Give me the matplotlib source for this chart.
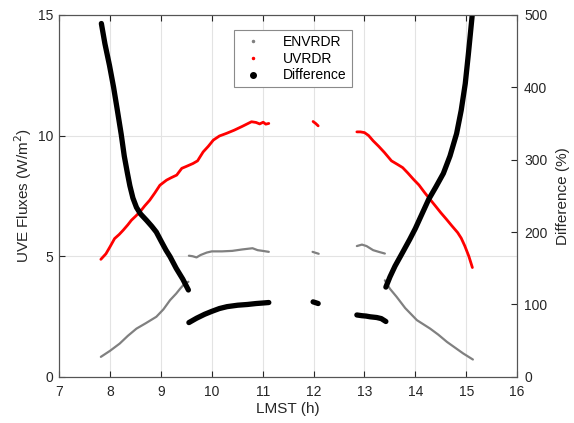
import matplotlib
matplotlib.use("Agg")
import matplotlib.pyplot as plt
from matplotlib.lines import Line2D

plt.rcParams['font.family'] = ['Liberation Sans', 'DejaVu Sans']

# ENVRDR (W/m2), pieces separated by gaps
env_t1 = [7.82, 8.0, 8.19, 8.35, 8.52, 8.7, 8.91, 9.05, 9.18, 9.3, 9.38, 9.46, 9.54]
env_v1 = [0.83, 1.08, 1.38, 1.7, 2.0, 2.22, 2.49, 2.8, 3.18, 3.45, 3.66, 3.85, 3.94]
env_t2 = [9.55, 9.62, 9.7, 9.78, 9.9, 10.0, 10.2, 10.4, 10.6, 10.8, 10.9, 11.0, 11.12]
env_v2 = [5.02, 5.0, 4.95, 5.05, 5.15, 5.2, 5.2, 5.22, 5.28, 5.33, 5.25, 5.22, 5.18]
env_t3 = [11.98, 12.1]
env_v3 = [5.18, 5.1]
env_t4 = [12.85, 12.95, 13.04, 13.17, 13.28, 13.4]
env_v4 = [5.42, 5.48, 5.42, 5.25, 5.18, 5.11]
env_t5 = [13.4, 13.5, 13.63, 13.8, 14.03, 14.29, 14.45, 14.62, 14.8, 14.94, 15.13]
env_v5 = [4.0, 3.65, 3.32, 2.85, 2.35, 2.0, 1.75, 1.45, 1.18, 0.97, 0.72]

# UVRDR (W/m2)
uv_t1 = [7.82, 7.92, 8.0, 8.09, 8.18, 8.26, 8.35, 8.42, 8.5, 8.59, 8.68, 8.78,
         8.88, 8.98, 9.11, 9.2, 9.31, 9.41, 9.5, 9.63, 9.72, 9.83, 9.93, 10.03,
         10.15, 10.29, 10.44, 10.6, 10.78, 10.87, 10.94, 11.01, 11.06, 11.12]
uv_v1 = [4.87, 5.1, 5.39, 5.73, 5.9, 6.08, 6.3, 6.49, 6.65, 6.84, 7.08, 7.32,
         7.62, 7.94, 8.15, 8.25, 8.36, 8.64, 8.72, 8.84, 8.95, 9.32, 9.55, 9.81,
         9.98, 10.09, 10.22, 10.38, 10.57, 10.54, 10.48, 10.55, 10.47, 10.5]
uv_t2 = [11.99, 12.04, 12.09]
uv_v2 = [10.58, 10.5, 10.4]
uv_t3 = [12.85, 12.92, 13.0, 13.08, 13.17, 13.28, 13.39, 13.53, 13.65, 13.75,
         13.85, 13.96, 14.07, 14.18, 14.29, 14.39, 14.5, 14.61, 14.72, 14.83,
         14.9, 14.97, 15.05, 15.12]
uv_v3 = [10.15, 10.15, 10.12, 10.0, 9.78, 9.55, 9.3, 8.95, 8.8, 8.67,
         8.45, 8.19, 7.95, 7.64, 7.35, 7.09, 6.8, 6.53, 6.25, 5.98,
         5.75, 5.43, 5.0, 4.53]

# Difference (%)
dif_t1 = [7.83, 7.9, 7.99, 8.07, 8.14, 8.22, 8.28, 8.34, 8.39, 8.45, 8.52, 8.6,
          8.72, 8.82, 8.91, 9.0, 9.1, 9.18, 9.3, 9.43, 9.54]
dif_v1 = [488, 460, 430, 400, 370, 335, 305, 282, 264, 247, 234, 225,
          216, 208, 200, 188, 175, 166, 150, 135, 120]
dif_t2 = [9.55, 9.7, 9.86, 10.0, 10.15, 10.3, 10.51, 10.7, 10.87, 11.0, 11.12]
dif_v2 = [75, 81, 86.5, 90.5, 94.4, 97, 99, 100, 101.3, 102, 102.7]
dif_t3 = [11.99, 12.04, 12.09]
dif_v3 = [103.6, 102.5, 101.3]
dif_t4 = [12.85, 12.95, 13.03, 13.11, 13.24, 13.33, 13.42]
dif_v4 = [85.5, 84.5, 84.0, 83.0, 82.0, 80.5, 76.5]
dif_t5 = [13.42, 13.5, 13.6, 13.75, 13.89, 14.0, 14.11, 14.26, 14.4, 14.55,
          14.68, 14.81, 14.9, 14.98, 15.04, 15.12]
dif_v5 = [124, 138, 153, 172, 190, 205, 222, 245, 262, 281,
          305, 336, 368, 405, 445, 502]

grey = '#808080'
ink = '#262626'

fig = plt.figure(figsize=(5.74, 4.23), dpi=100)
ax = fig.add_axes([0.103, 0.109, 0.798, 0.856])
ax2 = ax.twinx()

for t, v in [(env_t1, env_v1), (env_t2, env_v2), (env_t3, env_v3),
             (env_t4, env_v4), (env_t5, env_v5)]:
    ax.plot(t, v, color=grey, lw=1.6, solid_capstyle='round')
for t, v in [(uv_t1, uv_v1), (uv_t2, uv_v2), (uv_t3, uv_v3)]:
    ax.plot(t, v, color='red', lw=2.0, solid_capstyle='round')
for t, v in [(dif_t1, dif_v1), (dif_t2, dif_v2), (dif_t3, dif_v3),
             (dif_t4, dif_v4), (dif_t5, dif_v5)]:
    ax2.plot(t, v, color='black', lw=3.8, solid_capstyle='round')

ax.set_xlim(7, 16)
ax.set_ylim(0, 15)
ax2.set_ylim(0, 500)
ax.set_xticks(range(7, 17))
ax.set_yticks([0, 5, 10, 15])
ax2.set_yticks(range(0, 501, 100))

ax.grid(True, color='#e3e3e3', lw=0.8)
ax.set_axisbelow(True)
ax.tick_params(axis='x', direction='in', colors=ink, labelsize=10, length=4,
               top=True, pad=6)
ax.tick_params(axis='y', direction='in', colors=ink, labelsize=10, length=4, pad=4)
ax2.tick_params(direction='in', colors=ink, labelsize=10, length=4, pad=5)
for a in (ax, ax2):
    for s in a.spines.values():
        s.set_color('#555555')
        s.set_linewidth(0.8)

ax.set_xlabel('LMST (h)', fontsize=11, color=ink, labelpad=2)
ax.set_ylabel('UVE Fluxes (W/m$^2$)', fontsize=11, color=ink, labelpad=3)
ax2.set_ylabel('Difference (%)', fontsize=11, color=ink, labelpad=6)

handles = [
    Line2D([], [], ls='none', marker='.', ms=3, color=grey, label='ENVRDR'),
    Line2D([], [], ls='none', marker='.', ms=3, color='red', label='UVRDR'),
    Line2D([], [], ls='none', marker='.', ms=8, color='black', label='Difference'),
]
leg = ax2.legend(handles=handles, loc='upper center', bbox_to_anchor=(0.51, 0.958),
                 borderaxespad=0, fontsize=10, frameon=True, fancybox=False,
                 framealpha=1, edgecolor='#8a8a8a', borderpad=0.35,
                 labelspacing=0.2, handletextpad=1.2, handlelength=2.0)
leg.get_frame().set_linewidth(0.8)

fig.savefig('out.png', dpi=100)
